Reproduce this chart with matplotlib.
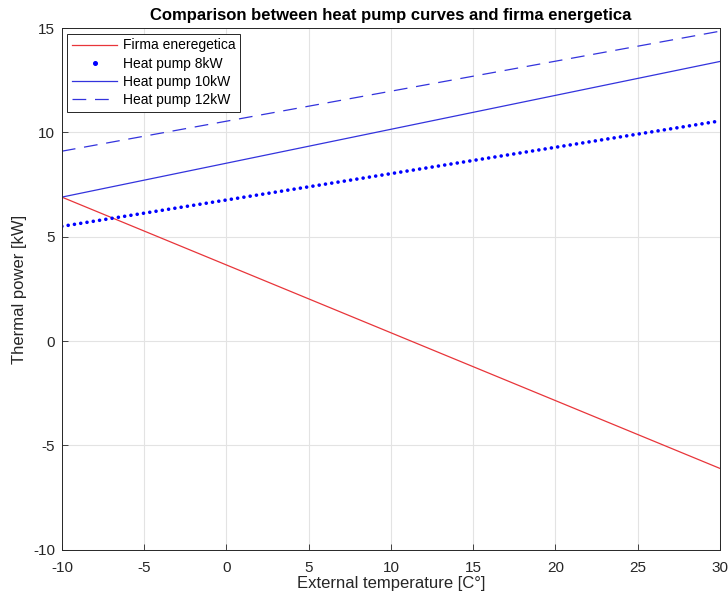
import matplotlib
matplotlib.use("Agg")
import matplotlib.pyplot as plt
from matplotlib.lines import Line2D

# External temperature range [°C] and thermal power endpoints [kW]
temperature = [-10, 30]
firma_energetica = [6.9, -6.1]
heat_pump_8kw = [5.5, 10.55]
heat_pump_10kw = [6.9, 13.4]
heat_pump_12kw = [9.1, 14.85]

x_ticks = [-10, -5, 0, 5, 10, 15, 20, 25, 30]
y_ticks = [-10, -5, 0, 5, 10, 15]

plt.rcParams['font.family'] = ['Liberation Sans', 'DejaVu Sans']
plt.rcParams['axes.unicode_minus'] = False

fig = plt.figure(figsize=(7.28, 5.97), dpi=100)
ax = fig.add_axes([0.085, 0.079, 0.904, 0.874])

red = '#e8353a'
blue_thin = '#3333dd'
blue = '#0000ff'

ax.plot(temperature, firma_energetica, color=red, lw=0.9)
ax.plot(temperature, heat_pump_8kw, color=blue, lw=2.6,
        linestyle=(0, (0.01, 1.75)), dash_capstyle='round')
ax.plot(temperature, heat_pump_10kw, color=blue_thin, lw=0.9)
ax.plot(temperature, heat_pump_12kw, color=blue_thin, lw=0.9,
        linestyle=(0, (11, 7)))

ax.set_xlim(-10, 30)
ax.set_ylim(-10, 15)
ax.set_xticks(x_ticks)
ax.set_yticks(y_ticks)
ax.grid(True, color='#e3e3e3', lw=0.8)
ax.set_axisbelow(True)

for s in ax.spines.values():
    s.set_color('#262626')
    s.set_linewidth(0.7)
ax.tick_params(direction='in', length=4, width=0.6, colors='#262626',
               labelsize=11, top=False, right=False)
ax.tick_params(axis='x', pad=8)
ax.tick_params(axis='y', pad=5)

ax.set_xlabel('External temperature [C°]', fontsize=12, color='#262626',
              labelpad=1)
ax.set_ylabel('Thermal power [kW]', fontsize=12, color='#262626')
ax.set_title('Comparison between heat pump curves and firma energetica',
             fontsize=12, fontweight='bold', pad=6)

handles = [
    Line2D([], [], color=red, lw=0.9),
    Line2D([], [], color=blue, marker='o', markersize=2.6, linestyle='none'),
    Line2D([], [], color=blue_thin, lw=0.9),
    Line2D([], [], color=blue_thin, lw=0.9, linestyle=(0, (11, 7))),
]
labels = ['Firma eneregetica', 'Heat pump 8kW', 'Heat pump 10kW',
          'Heat pump 12kW']
leg = ax.legend(handles, labels, loc='upper left', fontsize=10,
                fancybox=False, edgecolor='#262626', framealpha=1,
                borderpad=0.35, labelspacing=0.3, handlelength=3.2,
                handletextpad=0.45, borderaxespad=0.4)
leg.get_frame().set_linewidth(0.7)

fig.savefig('out.png', dpi=100)
